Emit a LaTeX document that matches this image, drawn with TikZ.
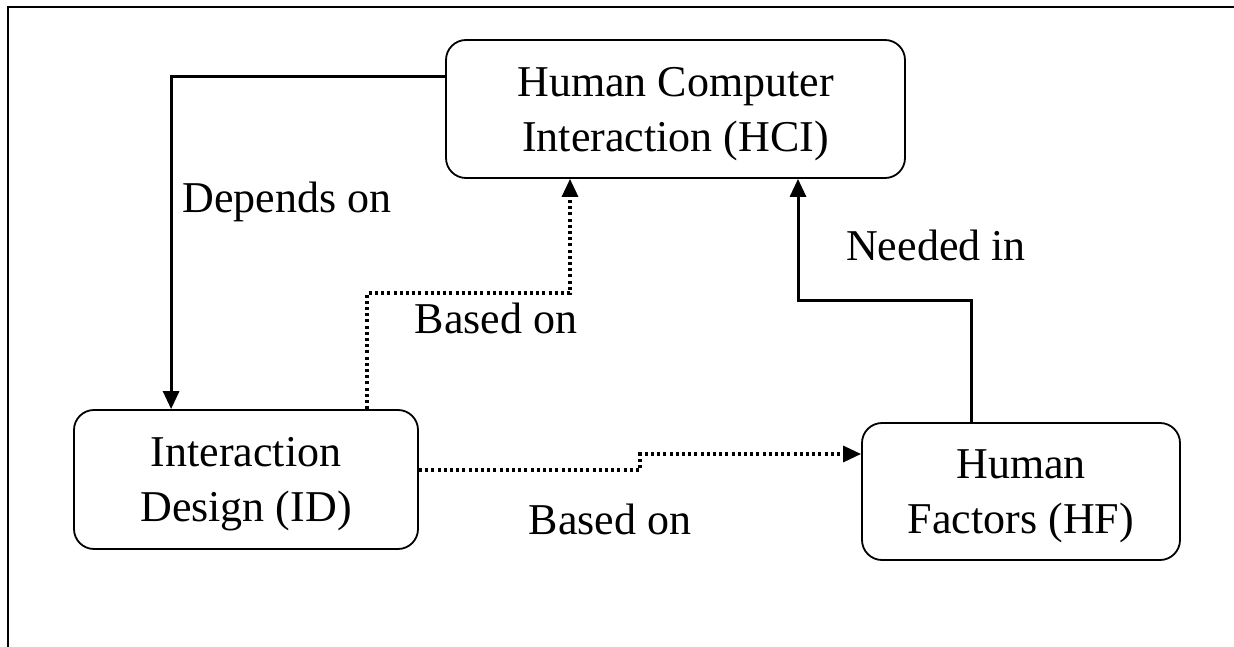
\documentclass[tikz,border=0pt]{standalone}
\usepackage{fontspec}
\setmainfont{Liberation Serif}
\usetikzlibrary{arrows.meta,calc}
\newcommand{\topstrut}{\rule{0pt}{39pt}}
\begin{document}
\begin{tikzpicture}[x=1pt,y=-1pt,
  box/.style={draw,line width=1.8pt,rounded corners=20pt,align=center,inner sep=0pt,
    font=\fontsize{44}{55}\selectfont},
  lbl/.style={font=\fontsize{44}{55}\selectfont,inner sep=0pt},
  solidarrow/.style={line width=3pt,-{Triangle[width=16pt,length=18pt]}},
  dotarrow/.style={line width=3.2pt,dash pattern=on 3pt off 3.2pt,-{Triangle[width=16pt,length=18pt]}}]
\useasboundingbox (0,0) rectangle (1234,647);
\draw[line width=2pt] (8,650) -- (8,7) -- (1240,7);
\node[box,minimum width=459pt,minimum height=138pt] (HCI) at (675.5,109) {\topstrut Human Computer\\Interaction (HCI)};
\node[box,minimum width=344pt,minimum height=139pt] (ID) at (246,479.5) {\topstrut Interaction\\Design (ID)};
\node[box,minimum width=318pt,minimum height=137pt] (HF) at (1021,491.5) {\topstrut Human\\Factors (HF)};
\coordinate (d1) at (HCI.west |- 0,77);
\coordinate (d2) at ($(ID.north west)+(98,0)$);
\draw[solidarrow] (d1) -| (d2);
\coordinate (n1) at ($(HF.north)+(-50,0)$);
\coordinate (n2) at (HCI.south -| 798,0);
\draw[solidarrow] (n1) -- (n1 |- 0,300) -| (n2);
\coordinate (b1) at (ID.north -| 367,0);
\coordinate (b2) at (HCI.south -| 570,0);
\draw[dotarrow] (b1) -- (b1 |- 0,293) -| (b2);
\coordinate (h1) at (ID.east |- 0,470);
\coordinate (h2) at (HF.west |- 0,454);
\draw[dotarrow] (h1) -- (640,470) -- (640,454) -- (h2);
\node[lbl] (ldep) at (287,202) {Depends on};
\node[lbl] (lneed) at (936,245) {Needed in};
\node[lbl] (lb1) at (496,318) {Based on};
\node[lbl] (lb2) at (610,519) {Based on};
\end{tikzpicture}
\end{document}
